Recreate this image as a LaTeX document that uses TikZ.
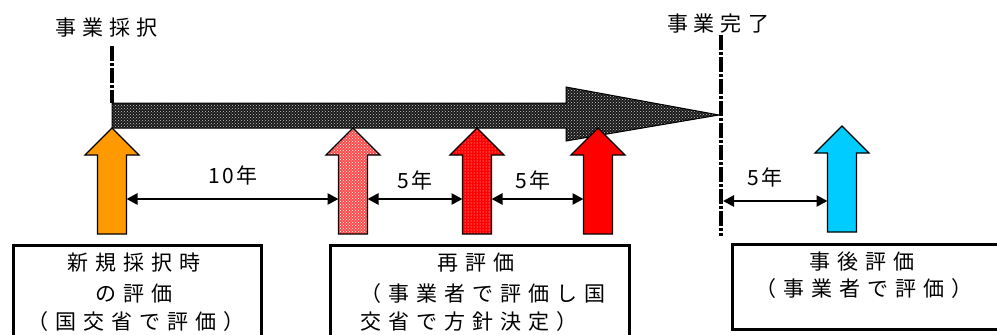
\documentclass[tikz,border=0pt]{standalone}
\usepackage{fontspec}
\newfontfamily\jp{Noto Sans CJK JP}
\usetikzlibrary{arrows.meta,patterns}
\newdimen\csp
\makeatletter
\newcommand\spc[2][9pt]{\csp=#1\relax\spc@aux#2\relax\unskip}
\def\spc@aux#1{\ifx#1\relax\else#1\hspace{\csp}\expandafter\spc@aux\fi}
\makeatother
\definecolor{orng}{HTML}{FF9900}
\definecolor{skyb}{HTML}{00CCFF}
\tikzset{
  uparr/.pic={
    \path[pic actions] (0,0) -- (27,27) -- (14.5,27) -- (14.5,106) -- (-14.5,106) -- (-14.5,27) -- (-27,27) -- cycle;
    \coordinate (-l) at (-14.5,71);
    \coordinate (-r) at (14.5,71);
  },
  arr/.style={draw=black, line width=1.3},
  vdash/.style={line width=4, dash pattern=on 15pt off 2pt on 3pt off 2pt},
  dbl/.style={line width=2.6, {Triangle[length=11pt,width=11pt]}-{Triangle[length=11pt,width=11pt]}},
  box/.style={draw, line width=3, anchor=north west, inner sep=0pt},
  txt/.style={font=\jp\fontsize{21}{24}\selectfont, inner sep=0pt},
  lbl/.style={font=\jp\fontsize{21}{24}\selectfont, inner sep=0pt},
}
\begin{document}
\begin{tikzpicture}[x=1pt,y=-1pt]
\clip (0,0) rectangle (997,335);
\fill[white] (0,0) rectangle (997,335);
% top labels
\node[txt] (start) at (107,28) {\spc[6pt]{事業採択}};
\node[txt] (end) at (718,24) {\spc[6pt]{事業完了}};
% vertical markers
\coordinate (s0) at (112,46);
\coordinate (s1) at (112,103);
\draw[vdash] (s0) -- (s1);
\coordinate (e0) at (721,35);
\coordinate (e1) at (721,236);
\draw[vdash] (e0) -- (e1);
% big arrow
\coordinate (tip) at (719,115);
\path[fill=black!90] (s1) -- (566,103) -- (566,87) -- (tip) -- (566,141) -- (566,128) -- (112,128) -- cycle;
\path[draw=black, line width=1, pattern=crosshatch dots, pattern color=white!80!black]
  (s1) -- (566,103) -- (566,87) -- (tip) -- (566,141) -- (566,128) -- (112,128) -- cycle;
% up arrows
\pic[arr, fill=orng] (o) at (112,128) {uparr};
\pic[fill=red!70] (p1) at (353,128) {uparr};
\pic[arr, pattern=crosshatch dots, pattern color=white] at (353,128) {uparr};
\pic[fill=red] (p2) at (477,128) {uparr};
\pic[arr, pattern=dots, pattern color=white] at (477,128) {uparr};
\pic[arr, fill=red] (r) at (598,128) {uparr};
\pic[arr, fill=skyb] (b) at (842,126) {uparr};
% interval arrows
\draw[dbl] (o-r) -- (p1-l);
\draw[dbl] (p1-r) -- (p2-l);
\draw[dbl] (p2-r) -- (r-l);
\coordinate (e2) at (723,201);
\draw[dbl] (e2) -- (e2 -| b-l);
% interval labels
\node[lbl] (y10) at (233,175) {\spc[2pt]{10年}};
\node[lbl] (y5a) at (415,180) {\spc[2pt]{5年}};
\node[lbl] (y5b) at (533,180) {\spc[2pt]{5年}};
\node[lbl] (y5c) at (765,177) {\spc[2pt]{5年}};
% boxes
\node[box, minimum width=248, minimum height=120] (b1) at (11.5,243.5) {};
\node[box, minimum width=299, minimum height=120] (b2) at (328.5,243.5) {};
\node[box, minimum width=290, minimum height=85] (b3) at (730.5,242.5) {};
% box texts
\node[txt] (t11) at (134,263) {\spc[7pt]{新規採択時}};
\node[txt] (t12) at (134,294) {\spc[7pt]{の評価}};
\node[txt] (t13) at (136,322) {\spc[7pt]{（国交省で評価）}};
\node[txt] (t21) at (476,263) {\spc[7pt]{再評価}};
\node[txt, anchor=west] (t22) at (360,294) {\spc[7pt]{（事業者で評価し国}};
\node[txt, anchor=west] (t23) at (360,322) {\spc[7pt]{交省で方針決定）}};
\node[txt] (t31) at (862,262) {\spc[7pt]{事後評価}};
\node[txt] (t32) at (864,289) {\spc[7pt]{（事業者で評価）}};
\end{tikzpicture}
\end{document}
